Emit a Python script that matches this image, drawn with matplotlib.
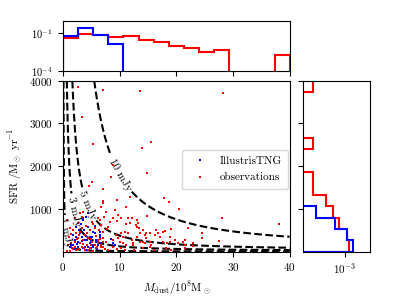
import numpy as np
import matplotlib
matplotlib.use("Agg")
import matplotlib.pyplot as plt

plt.rcParams['font.family'] = 'serif'
plt.rcParams['font.serif'] = ['cmr10', 'DejaVu Serif']
plt.rcParams['mathtext.fontset'] = 'cm'
plt.rcParams['axes.unicode_minus'] = False
plt.rcParams['axes.formatter.use_mathtext'] = True
plt.rcParams['font.size'] = 8

# ---------------- data ----------------
obs_mdust = [2.6, 7.1, 13.6, 28.2, 3.3, 5.35, 15.5, 13.9, 8.9, 8.4, 14.9, 5.05, 4.6, 7.1, 11.9,
             9.5, 17.85, 18.7, 20.5, 14.9, 28.1, 38.1, 22.0, 18.0, 19.15, 24.6, 24.6, 27.5, 23.0, 21.5,
             21.2, 19.7, 18.9, 17.7, 16.2, 16.5, 14.7, 14.7, 14.4, 13.0, 13.3, 13.1, 12.1, 15.6, 18.3,
             18.1, 15.3, 13.6, 12.4, 14.1,
             11.1, 7.6, 7.2, 9.2, 9.7, 10.2, 11.5, 11.1, 11.9, 12.9, 9.6, 8.9, 8.3, 8.0, 7.7,
             7.1, 6.8, 6.5, 13.4, 14.1, 15.3, 16.8, 17.1, 14.4, 13.6, 13.0, 11.5, 10.9, 10.6, 10.2,
             9.7, 9.3, 8.9, 12.1, 12.4, 14.1, 17.7, 18.9, 20.3, 21.5, 22.9, 10.6, 11.2, 10.1, 7.6,
             7.0, 6.8, 6.2, 7.0, 8.8, 15.3, 21.5,
             7.0, 6.8, 3.0, 3.6, 3.3, 2.1, 2.7, 5.05, 6.2, 0.65, 5.6, 1.2, 1.8, 2.4, 3.0,
             3.9, 4.46, 3.6, 2.7, 2.1, 1.5, 3.0, 5.05, 5.6, 6.2, 4.2, 3.3, 2.1, 4.75, 5.9,
             6.8, 7.1, 0.06, 0.65, 1.2, 2.4, 3.9, 5.3,
             8.0, 9.5, 11.0, 12.5, 16.0, 19.0, 7.5, 10.3, 4.5, 1.8,
             4.0, 4.8, 5.3, 3.4, 2.9, 4.3, 5.8, 6.4, 2.5, 3.5, 4.9, 6.0, 2.8, 3.7, 5.0,
             6.6, 1.0, 1.4, 0.9, 1.6, 7.1]
obs_sfr = [3850, 3790, 3750, 3710, 3150, 2530, 2560, 2420, 2030, 1760, 1836, 1640, 1540, 1460, 1280,
           1210, 1250, 1160, 1000, 836, 782, 649, 548, 492, 524, 431, 314, 258, 133, 274,
           234, 274, 351, 468, 391, 508, 431, 314, 197, 585, 665, 742, 782, 157, 197,
           80, 234, 234, 157, 94,
           1054, 937, 820, 977, 860, 782, 782, 649, 679, 625, 726, 782, 703, 585, 525,
           468, 625, 742, 548, 508, 431, 431, 353, 391, 431, 351, 431, 468, 351, 431,
           314, 391, 274, 274, 197, 234, 234, 234, 197, 157, 197, 197, 157, 234, 234,
           314, 157, 234, 117, 117, 117, 78,
           1195, 1054, 899, 937, 820, 782, 665, 703, 782, 742, 548, 548, 508, 431, 470,
           391, 314, 274, 314, 234, 197, 197, 234, 157, 274, 157, 117, 117, 78, 78,
           117, 234, 40, 25, 25, 40, 40, 25,
           40, 60, 30, 50, 40, 30, 60, 90, 40, 60,
           600, 520, 650, 560, 400, 450, 380, 520, 300, 180, 300, 120, 60, 80, 160,
           300, 350, 420, 150, 90, 1133]

tng_mdust = [3.5, 4.1, 5.05, 4.46, 3.7, 3.1, 2.4, 5.3, 4.7, 6.5, 5.9, 3.9, 3.0, 2.1, 1.5,
             4.5, 5.3, 6.8, 7.6, 2.7, 5.0, 3.6, 2.4, 3.3, 1.8, 2.7, 4.2, 4.75, 3.9, 5.05,
             5.6, 6.2, 6.5, 1.8, 3.6, 5.3, 5.9, 1.2, 4.0, 2.2, 6.0, 7.0, 8.5, 9.2, 3.2,
             4.4, 5.6, 2.9, 4.0, 3.4, 4.9, 2.5, 6.5, 8.8]
tng_sfr = [796, 820, 703, 585, 510, 431, 355, 468, 355, 391, 274, 274, 197, 274, 160,
           117, 155, 197, 234, 117, 78, 742, 585, 351, 391, 234, 274, 197, 117, 351,
           431, 157, 351, 157, 78, 117, 234, 117, 40, 60, 60, 120, 300, 150, 650,
           900, 600, 520, 380, 250, 240, 180, 468, 197]

# marginal histograms (density per bin), 15 bins each
mdust_edges = np.linspace(0, 40, 16)
sfr_edges = np.linspace(0, 4000, 16)
obs_mdust_hist = [0.040, 0.094, 0.069, 0.051, 0.065, 0.031, 0.019, 0.010, 0.0071, 0.0034,
                  0.0049, 0, 0, 0, 0.0017]
tng_mdust_hist = [0.061, 0.25, 0.078, 0.013, 0, 0, 0, 0, 0, 0, 0, 0, 0, 0, 0]
obs_sfr_hist = [1.75e-3, 1.24e-3, 4.8e-4, 2.23e-4, 8.3e-5, 1.7e-5, 1.7e-5, 0, 0, 1.7e-5,
                0, 0, 0, 0, 1.7e-5]
tng_sfr_hist = [2.92e-3, 1.24e-3, 2.76e-4, 2.3e-5, 0, 0, 0, 0, 0, 0, 0, 0, 0, 0, 0]

# flux-density model curves  S = c * M * ((1 + k*SFR/M)^g - 1)  [mJy]
flux_levels = [1, 3, 5, 10]
flux_c, flux_k, flux_g = 0.0583, 6.5, 0.41
label_pos = [(0.35, 437), (1.8, 940), (4.4, 1100), (10.0, 1800)]

# ---------------- figure ----------------
fig = plt.figure(figsize=(3.98, 2.99), dpi=100)
ax = fig.add_axes([0.158, 0.158, 0.570, 0.572])
axt = fig.add_axes([0.158, 0.7635, 0.570, 0.167], sharex=ax)
axr = fig.add_axes([0.762, 0.158, 0.1676, 0.572], sharey=ax)

M = np.linspace(0.005, 40, 1600)
S = np.linspace(1, 4000, 900)
MM, SS = np.meshgrid(M, S)
F = flux_c * MM * ((1 + flux_k * SS / MM) ** flux_g - 1)
cs = ax.contour(MM, SS, F, levels=flux_levels, colors='k', linestyles='--', linewidths=1.5)
ax.clabel(cs, fmt={lv: f'{lv} mJy' for lv in flux_levels}, manual=label_pos,
          fontsize=8, inline=True, inline_spacing=3)

ax.plot(tng_mdust, tng_sfr, ls='none', marker='s', ms=1.6, mew=0, color='blue',
        label='IllustrisTNG', zorder=3)
ax.plot(obs_mdust, obs_sfr, ls='none', marker='s', ms=1.6, mew=0, color='red',
        label='observations', zorder=3)
ax.set_xlim(0, 40)
ax.set_ylim(0, 4000)
ax.set_xticks([0, 10, 20, 30, 40])
ax.set_yticks([1000, 2000, 3000, 4000])
ax.set_xlabel(r'$M_\mathrm{dust}/10^8\mathrm{M}_\odot$')
ax.set_ylabel(r'SFR $/\mathrm{M}_\odot\ \mathrm{yr}^{-1}$')
ax.legend(loc='upper left', bbox_to_anchor=(0.5, 0.63), fontsize=8, markerscale=1.0,
          handlelength=2.0, handletextpad=0.8, borderpad=0.6, labelspacing=0.6)

# top histogram
axt.set_yscale('log')
axt.stairs(obs_mdust_hist, mdust_edges, color='red', lw=1.5)
axt.stairs(tng_mdust_hist, mdust_edges, color='blue', lw=1.5)
axt.set_ylim(1e-4, 1)
axt.set_yticks([1e-4, 1e-1])
axt.yaxis.set_minor_locator(matplotlib.ticker.NullLocator())
axt.tick_params(labelbottom=False, labelsize=7.5)

# right histogram
axr.set_xscale('log')
axr.stairs(obs_sfr_hist, sfr_edges, orientation='horizontal', color='red', lw=1.5)
axr.stairs(tng_sfr_hist, sfr_edges, orientation='horizontal', color='blue', lw=1.5)
axr.set_xlim(4.7e-6, 2.5e-2)
axr.set_xticks([1e-3])
axr.xaxis.set_minor_locator(matplotlib.ticker.NullLocator())
axr.tick_params(labelleft=False)
ax.set_ylim(0, 4000)

fig.savefig('out.png', dpi=100)
